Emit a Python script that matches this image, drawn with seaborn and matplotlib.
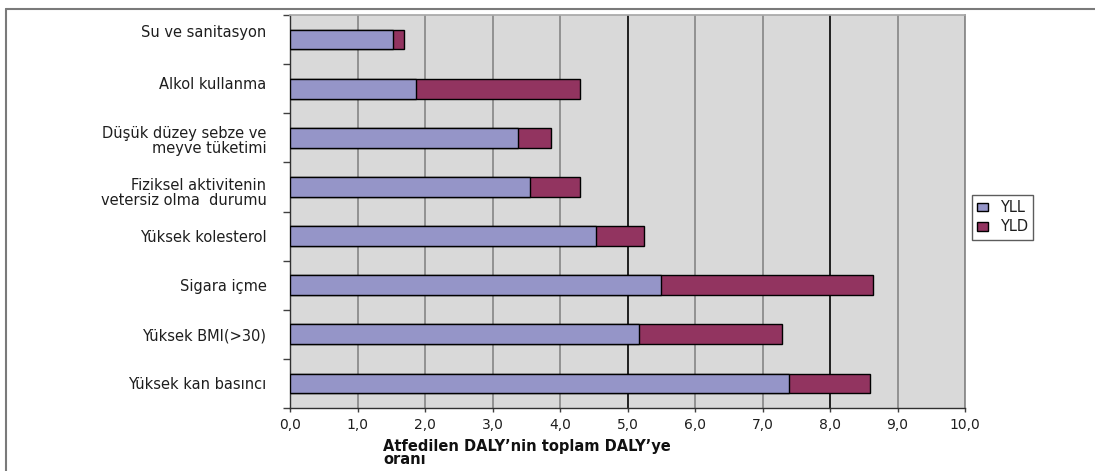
import numpy as np
import pandas as pd
import seaborn as sns
import matplotlib
matplotlib.use("Agg")
import matplotlib.pyplot as plt
from matplotlib.lines import Line2D
from matplotlib.patches import Patch
from matplotlib.ticker import FixedLocator, FuncFormatter
from matplotlib.transforms import ScaledTranslation

# Risk factors, top to bottom
categories = [
    "Su ve sanitasyon",
    "Alkol kullanma",
    "Düşük düzey sebze ve\nmeyve tüketimi",
    "Fiziksel aktivitenin\nvetersiz olma  durumu",
    "Yüksek kolesterol",
    "Sigara içme",
    "Yüksek BMI(>30)",
    "Yüksek kan basıncı",
]
# Share of total DALY (%) split into YLL and YLD
yll = [1.52, 1.87, 3.38, 3.56, 4.54, 5.50, 5.17, 7.39]
yld = [0.17, 2.42, 0.49, 0.73, 0.70, 3.14, 2.12, 1.20]
x_ticks = [0, 1, 2, 3, 4, 5, 6, 7, 8, 9, 10]

df = pd.DataFrame({"kategori": categories, "YLL": yll, "YLD": yld})
df["toplam"] = df["YLL"] + df["YLD"]

YLL_COLOR = "#9595C8"
YLD_COLOR = "#923460"
TEXT_COLOR = "#1e1e1e"

sns.set_theme(style="white")
plt.rcParams["font.family"] = ["DejaVu Sans"]

fig = plt.figure(figsize=(10.95, 4.71), dpi=100)
ax = fig.add_axes([290 / 1095, 1 - 408 / 471, 675 / 1095, 393 / 471])
ax.set_facecolor("#D9D9D9")

# Stacked bars: full length in YLD colour, YLL drawn over it
sns.barplot(data=df, y="kategori", x="toplam", orient="h", color=YLD_COLOR,
            saturation=1, width=0.4, edgecolor="black", linewidth=1.0, ax=ax, zorder=3)
sns.barplot(data=df, y="kategori", x="YLL", orient="h", color=YLL_COLOR,
            saturation=1, width=0.4, edgecolor="black", linewidth=1.0, ax=ax, zorder=4)

ax.set_xlim(0, 10)
ax.set_ylim(len(categories) - 0.5, -0.5)

ax.xaxis.set_major_locator(FixedLocator(x_ticks))
ax.xaxis.set_major_formatter(FuncFormatter(lambda v, p: f"{v:.1f}".replace(".", ",")))
ax.tick_params(axis="x", direction="out", length=3, width=1, color="#404040",
               labelsize=10, labelcolor=TEXT_COLOR, pad=4, bottom=True)

# Vertical gridlines
ax.set_axisbelow(True)
grid_colors = {5: "#111111", 8: "#111111"}
for v in x_ticks[1:]:
    ax.axvline(v, color=grid_colors.get(v, "#8c8c8c"), lw=1.3, zorder=1)

# Category labels at centres, tick marks on slot boundaries
ax.set_yticks(range(len(categories)))
ax.set_yticklabels(categories, fontsize=10.5, color=TEXT_COLOR)
ax.tick_params(axis="y", which="major", length=0, pad=17)
ax.set_yticks(np.arange(-0.5, len(categories), 1.0), minor=True)
ax.tick_params(axis="y", which="minor", direction="out", length=5, width=1,
               color="#404040", left=True)

# Small vertical nudges of individual category labels (pixels, up is positive)
label_nudge = {0: 9, 1: 6, 2: -2, 3: -5}
for i, lab in enumerate(ax.get_yticklabels()):
    lab.set_multialignment("right")
    lab.set_linespacing(0.95)
    dy = label_nudge.get(i, 0)
    if dy:
        lab.set_transform(lab.get_transform()
                          + ScaledTranslation(0, dy / 100, fig.dpi_scale_trans))

ax.set_ylabel("")
ax.set_xlabel("Atfedilen DALY’nin toplam DALY’ye\noranı", fontsize=10.5,
              fontweight="bold", color="#111111", ha="left", va="center",
              linespacing=0.9)
ax.xaxis.set_label_coords((383 - 290) / 675, -(453 - 408) / 393)

for side in ["left", "bottom"]:
    ax.spines[side].set_color("#303030")
    ax.spines[side].set_linewidth(1.0)
ax.spines["top"].set_color("#a8a8a8")
ax.spines["right"].set_color("#8c8c8c")
ax.spines["right"].set_linewidth(1.3)

handles = [Patch(facecolor=YLL_COLOR, edgecolor="black", label="YLL"),
           Patch(facecolor=YLD_COLOR, edgecolor="black", label="YLD")]
leg = fig.legend(handles=handles, loc="upper left",
                 bbox_to_anchor=(972 / 1095, 1 - 195 / 471),
                 frameon=True, fancybox=False, fontsize=10.5,
                 handlelength=0.75, handleheight=0.55, handletextpad=0.8,
                 borderpad=0.35, labelspacing=0.3, borderaxespad=0)
leg.get_frame().set_edgecolor("#333333")
leg.get_frame().set_linewidth(1.0)
for t in leg.get_texts():
    t.set_color(TEXT_COLOR)

# Outer chart frame (top and left edges)
fig.add_artist(Line2D([6 / 1095, 1.0], [1 - 9 / 471, 1 - 9 / 471],
                      transform=fig.transFigure, color="#7a7a7a", lw=1.5))
fig.add_artist(Line2D([6 / 1095, 6 / 1095], [0.0, 1 - 9 / 471],
                      transform=fig.transFigure, color="#7a7a7a", lw=1.5))

fig.savefig("out.png", dpi=100, facecolor="white")
